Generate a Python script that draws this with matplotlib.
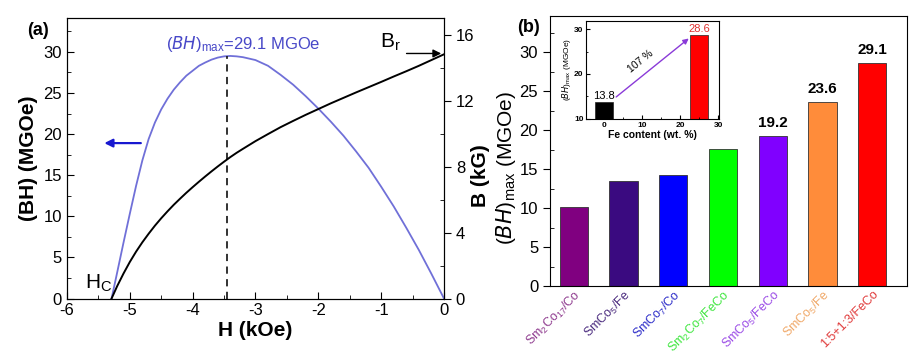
import matplotlib
matplotlib.use("Agg")
import matplotlib.pyplot as plt
from matplotlib.ticker import MultipleLocator
from matplotlib.transforms import ScaledTranslation

plt.rcParams["font.family"] = ["Liberation Sans", "DejaVu Sans"]
plt.rcParams["mathtext.default"] = "regular"
plt.rcParams["axes.unicode_minus"] = False

# --- panel (a): demagnetization data ---
H_BH = [-5.29, -5.2, -5.1, -5.0, -4.9, -4.8, -4.7, -4.6, -4.5, -4.4, -4.3, -4.2, -4.1,
        -4.0, -3.9, -3.8, -3.7, -3.6, -3.5, -3.4, -3.3, -3.2, -3.0, -2.8, -2.6, -2.4,
        -2.2, -2.0, -1.8, -1.6, -1.4, -1.2, -1.0, -0.8, -0.6, -0.4, -0.2, 0.0]
BH = [0.0, 3.2, 6.8, 10.3, 13.7, 16.8, 19.4, 21.4, 23.0, 24.3, 25.4, 26.3, 27.1,
      27.7, 28.3, 28.7, 29.05, 29.3, 29.45, 29.5, 29.45, 29.35, 29.0, 28.3, 27.2, 26.0,
      24.6, 23.1, 21.5, 19.8, 17.9, 15.9, 13.6, 11.2, 8.6, 5.9, 3.0, 0.0]

H_B = [-5.29, -5.2, -5.1, -5.0, -4.9, -4.8, -4.7, -4.6, -4.5, -4.4, -4.3, -4.2, -4.1,
       -4.0, -3.9, -3.8, -3.7, -3.6, -3.5, -3.4, -3.3, -3.2, -3.0, -2.8, -2.6, -2.4,
       -2.2, -2.0, -1.8, -1.6, -1.4, -1.2, -1.0, -0.8, -0.6, -0.4, -0.2, 0.0]
B = [0.0, 0.76, 1.52, 2.22, 2.85, 3.42, 3.94, 4.43, 4.88, 5.3, 5.7, 6.07, 6.43,
     6.77, 7.1, 7.42, 7.73, 8.03, 8.32, 8.6, 8.86, 9.1, 9.57, 10.0, 10.42, 10.8,
     11.17, 11.52, 11.87, 12.2, 12.53, 12.85, 13.17, 13.5, 13.82, 14.15, 14.5, 14.85]

H_MAX = -3.45
BH_MAX = 29.5
BR = 14.9

# --- panel (b): bar data ---
samples = [r"Sm$_2$Co$_{17}$/Co", r"SmCo$_5$/Fe", r"SmCo$_7$/Co", r"Sm$_2$Co$_7$/FeCo",
           r"SmCo$_5$/FeCo", r"SmCo$_5$/Fe", "1:5+1:3/FeCo"]
bh_max = [10.1, 13.5, 14.2, 17.6, 19.2, 23.6, 28.6]
bar_colors = ["#800080", "#3a0a80", "#0000ff", "#00ff00", "#8000ff", "#ff8c3a", "#ff0000"]
label_colors = ["#8e3a8e", "#4a2a7e", "#2a2ac8", "#3ee63e", "#9a4ae6", "#f0a868", "#e03a3a"]
value_labels = {4: "19.2", 5: "23.6", 6: "29.1"}

# inset
fe_content = [0, 25]
inset_bh = [13.8, 28.6]
inset_colors = ["#000000", "#ff0000"]

fig = plt.figure(figsize=(9.16, 3.56), dpi=100)

# ---------------- panel (a) ----------------
ax = fig.add_axes([0.0731, 0.1615, 0.4116, 0.7876])
ax.plot(H_BH, BH, color="#7070d8", lw=1.3)
ax.plot([H_MAX, H_MAX], [0, BH_MAX], color="#222222", lw=1.3, ls=(0, (4, 3)))
ax.set_xlim(-6, 0)
ax.set_ylim(0, 34.1)
ax.xaxis.set_major_locator(MultipleLocator(1))
ax.xaxis.set_minor_locator(MultipleLocator(0.5))
ax.yaxis.set_major_locator(MultipleLocator(5))
ax.yaxis.set_minor_locator(MultipleLocator(2.5))
ax.tick_params(which="both", direction="in", labelsize=12)
ax.tick_params(which="major", length=5)
ax.tick_params(which="minor", length=3)
ax.set_xlabel("H (kOe)", fontsize=15, fontweight="bold", labelpad=2)
ax.set_ylabel("(BH) (MGOe)", fontsize=15, fontweight="bold", labelpad=4)

ax.text(-4.42, 31.0, r"$(\mathit{BH})_{max}$=29.1 MGOe", color="#4848c8", fontsize=12,
        ha="left", va="center")
ax.annotate("", xy=(-5.45, 18.9), xytext=(-4.78, 18.9),
            arrowprops=dict(arrowstyle="-|>", color="#1818d0", lw=1.6, mutation_scale=12))
ax.text(-5.72, 0.6, r"H$_C$", fontsize=15, ha="left", va="bottom")
ax.text(-1.02, 29.9, r"B$_r$", fontsize=15, ha="left", va="bottom")

ax2 = ax.twinx()
ax2.plot(H_B, B, color="black", lw=1.4)
ax2.annotate("", xy=(0, BR), xytext=(-0.64, BR),
             arrowprops=dict(arrowstyle="-|>", color="black", lw=1.0, mutation_scale=12))
ax2.set_ylim(0, 17.05)
ax2.yaxis.set_major_locator(MultipleLocator(4))
ax2.yaxis.set_minor_locator(MultipleLocator(2))
ax2.tick_params(which="major", direction="out", length=5, labelsize=12)
ax2.tick_params(which="minor", direction="in", length=3)
ax2.set_ylabel("B (kG)", fontsize=15, fontweight="bold")
ax2.yaxis.set_label_coords(1.072, 0.437)

fig.text(0.030, 0.915, "(a)", fontsize=13, fontweight="bold", ha="left", va="center")

# ---------------- panel (b) ----------------
bx = fig.add_axes([0.6004, 0.1966, 0.3897, 0.758])
xs = list(range(len(samples)))
bx.bar(xs, bh_max, width=0.57, color=bar_colors, edgecolor="#333333", linewidth=0.6)
for i, txt in value_labels.items():
    bx.text(i, bh_max[i] + 0.8, txt, fontsize=11, fontweight="bold", ha="center", va="bottom")
bx.set_xlim(-0.48, 6.7)
bx.set_ylim(0, 34.6)
bx.yaxis.set_major_locator(MultipleLocator(5))
bx.yaxis.set_minor_locator(MultipleLocator(2.5))
bx.tick_params(axis="y", which="major", direction="out", length=5, labelsize=12)
bx.tick_params(axis="y", which="minor", direction="in", length=3)
bx.set_xticks(xs)
bx.set_xticklabels(samples, rotation=45, ha="right", va="top", rotation_mode="anchor",
                   fontsize=9)
shift = ScaledTranslation(0.13, 0, fig.dpi_scale_trans)
for lab, c in zip(bx.get_xticklabels(), label_colors):
    lab.set_color(c)
    lab.set_transform(lab.get_transform() + shift)
bx.tick_params(axis="x", length=0, pad=1.5)
bx.set_ylabel(r"$(\mathit{BH})_{max}$ (MGOe)", fontsize=15)
bx.yaxis.set_label_coords(-0.09, 0.437)

fig.text(0.565, 0.922, "(b)", fontsize=13, fontweight="bold", ha="left", va="center")

# inset
ix = fig.add_axes([0.640, 0.666, 0.145, 0.275])
ix.bar(fe_content, inset_bh, width=4.8, bottom=0, color=inset_colors,
       edgecolor="#222222", linewidth=0.5)
ix.set_xlim(-4.7, 30.2)
ix.set_ylim(10, 31.8)
ix.xaxis.set_major_locator(MultipleLocator(10))
ix.xaxis.set_minor_locator(MultipleLocator(5))
ix.yaxis.set_major_locator(MultipleLocator(10))
ix.yaxis.set_minor_locator(MultipleLocator(5))
ix.tick_params(which="both", direction="in", labelsize=6, pad=2)
ix.tick_params(which="major", length=3)
ix.tick_params(which="minor", length=1.5)
for lab in ix.get_xticklabels() + ix.get_yticklabels():
    lab.set_fontweight("bold")
ix.set_xlabel("Fe content (wt. %)", fontsize=7.5, fontweight="bold", labelpad=1)
ix.set_ylabel(r"$(\mathit{BH})_{max}$ (MGOe)", fontsize=6, labelpad=1)
ix.text(0, inset_bh[0] + 0.2, "13.8", fontsize=8, ha="center", va="bottom")
ix.text(25, inset_bh[1] + 0.2, "28.6", fontsize=8, color="#e03030", ha="center", va="bottom")
ix.annotate("", xy=(22.8, 28.3), xytext=(2.6, 14.5),
            arrowprops=dict(arrowstyle="-|>", color="#8a3ad8", lw=1.0, mutation_scale=8))
ix.text(9.6, 22.7, "107 %", fontsize=7.5, rotation=39, ha="center", va="center")

fig.savefig("out.png", dpi=100)
